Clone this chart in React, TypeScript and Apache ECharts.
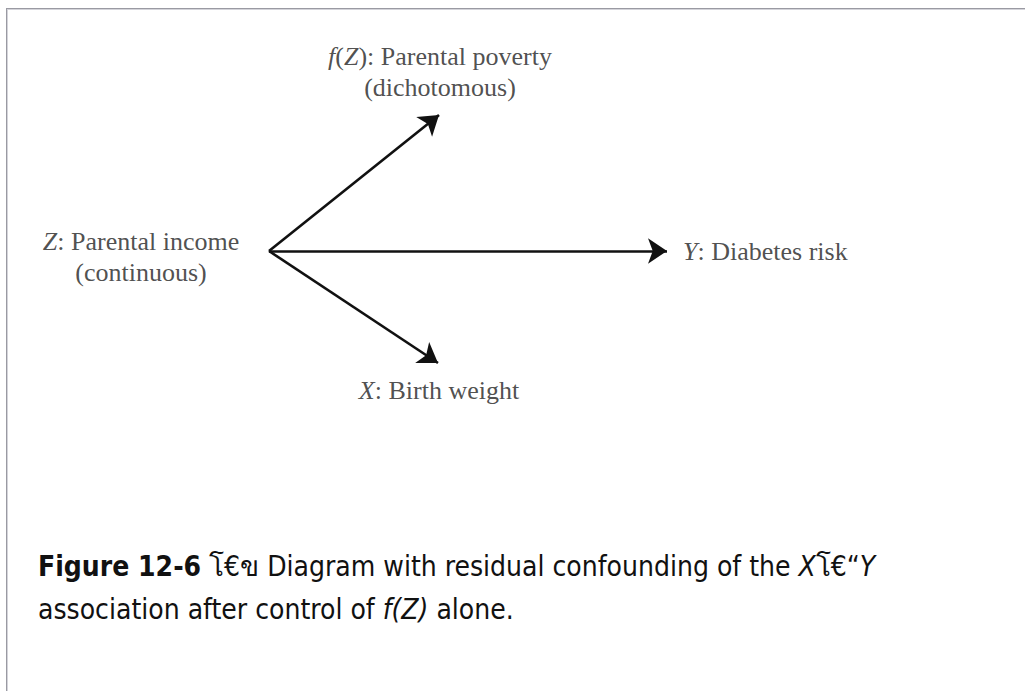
import React, { useEffect, useRef } from "react";
import * as echarts from "echarts";

// Diagram nodes (arrow endpoints) in page-pixel data units
const NODE_NAMES = ["Z", "fZ", "Y", "X"];
const NODE_X = [269, 439, 667, 438];
const NODE_Y = [251, 115, 251, 363];
// Directed edges (source -> target)
const EDGE_SOURCES = ["Z", "Z", "Z"];
const EDGE_TARGETS = ["fZ", "Y", "X"];

// Node labels (rich text) and their anchor points
const LABEL_TEXTS = [
  "{i|Z}: Parental income\n(continuous)",
  "{i|f}({i|Z}): Parental poverty\n(dichotomous)",
  "{i|Y}: Diabetes risk",
  "{i|X}: Birth weight",
];
const LABEL_X = [141, 440, 683, 439];
const LABEL_Y = [257, 72, 251, 390];
const LABEL_ALIGN = ["center", "center", "left", "center"];

// Caption lines
const CAPTION_LINES = [
  "{b|Figure 12-6} \u0E42\u20AC\u0E02 Diagram with residual confounding of the {i|X}\u0E42\u20AC\u201C{i|Y}",
  "association after control of {i|f(Z)} alone.",
];

export default function App() {
  const ref = useRef<HTMLDivElement>(null);
  useEffect(() => {
    if (!ref.current) return;
    const chart = echarts.init(ref.current, undefined, { renderer: "svg" });
    const serif = "'Liberation Serif', 'Times New Roman', serif";
    const sans = "'DejaVu Sans Condensed', 'DejaVu Sans', Verdana, sans-serif";
    const capSize = 28;
    const labelRich = {
      i: { fontStyle: "italic", fontFamily: serif, fontSize: 26, color: "#222", lineHeight: 31 },
    };
    const capRich = {
      b: { fontWeight: "bold", fontFamily: sans, fontSize: capSize, color: "#111" },
      i: { fontStyle: "italic", fontFamily: sans, fontSize: capSize, color: "#111" },
    };
    chart.setOption({
      animation: false,
      backgroundColor: "#ffffff",
      grid: { left: 0, right: 0, top: 0, bottom: 0, containLabel: false },
      xAxis: { type: "value", min: 0, max: 1025, show: false },
      yAxis: { type: "value", min: 0, max: 691, inverse: true, show: false },
      series: [
        {
          type: "graph",
          coordinateSystem: "cartesian2d",
          layout: "none",
          symbolSize: 0,
          edgeSymbol: ["none", "arrow"],
          edgeSymbolSize: [0, 19],
          label: { show: false },
          lineStyle: { color: "#111", width: 2.6, opacity: 1, curveness: 0 },
          itemStyle: { color: "#111" },
          data: NODE_NAMES.map((n, k) => ({ name: n, value: [NODE_X[k], NODE_Y[k]] })),
          links: EDGE_SOURCES.map((s, k) => ({ source: s, target: EDGE_TARGETS[k] })),
          silent: true,
        },
        {
          type: "scatter",
          symbolSize: 0,
          silent: true,
          data: LABEL_TEXTS.map((t, k) => ({
            value: [LABEL_X[k], LABEL_Y[k]],
            label: {
              show: true,
              position: "inside",
              formatter: t,
              align: LABEL_ALIGN[k],
              verticalAlign: "middle",
              fontFamily: serif,
              fontSize: 26,
              lineHeight: 31,
              color: "#222",
              rich: labelRich,
            },
          })),
        },
      ],
      graphic: [
        { type: "line", shape: { x1: 6, y1: 8.5, x2: 1025, y2: 8.5 }, style: { stroke: "#9a9aa2", lineWidth: 1 } },
        { type: "line", shape: { x1: 7, y1: 9.5, x2: 1025, y2: 9.5 }, style: { stroke: "#d4d4da", lineWidth: 1 } },
        { type: "line", shape: { x1: 6.5, y1: 8, x2: 6.5, y2: 691 }, style: { stroke: "#9a9aa2", lineWidth: 1 } },
        { type: "line", shape: { x1: 7.5, y1: 9, x2: 7.5, y2: 691 }, style: { stroke: "#d4d4da", lineWidth: 1 } },
        {
          type: "text",
          x: 38,
          y: 566,
          style: {
            text: CAPTION_LINES[0],
            fontFamily: sans,
            fontSize: capSize,
            fill: "#111",
            verticalAlign: "middle",
            rich: capRich,
          },
        },
        {
          type: "text",
          x: 38,
          y: 609,
          style: {
            text: CAPTION_LINES[1],
            fontFamily: sans,
            fontSize: capSize,
            fill: "#111",
            verticalAlign: "middle",
            rich: capRich,
          },
        },
      ],
    });
    return () => chart.dispose();
  }, []);
  return (
    <div
      ref={ref}
      style={{ position: "absolute", left: 0, top: 0, width: 1025, height: 691 }}
    />
  );
}
